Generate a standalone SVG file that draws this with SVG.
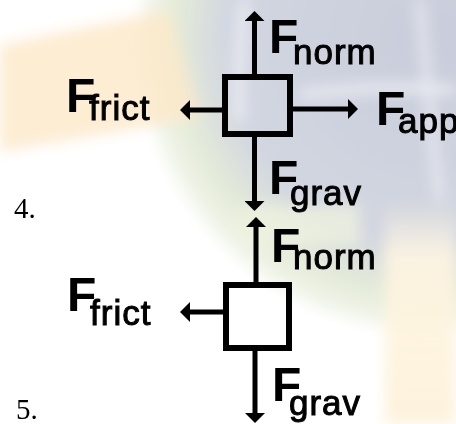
<svg xmlns="http://www.w3.org/2000/svg" width="456" height="424" viewBox="0 0 456 424">
<defs>
<style>
.F{font-family:"Liberation Sans",Arial,sans-serif;font-weight:bold;font-size:48px;fill:#000}
.s{font-family:"Liberation Sans",Arial,sans-serif;font-size:35px;fill:#000;stroke:#000;stroke-width:1;letter-spacing:1px}
.n{font-family:"Liberation Serif","Times New Roman",serif;font-size:29px;fill:#000}
.box{fill:none;stroke:#000;stroke-width:6}
.ln{stroke:#000;stroke-width:5;fill:none}
</style>
<marker id="ah" viewBox="0 -10 11 20" refX="0" refY="0" markerWidth="11" markerHeight="20" markerUnits="userSpaceOnUse" orient="auto">
<path d="M0,-10 L10,0 L0,10 Z" fill="#000"/>
</marker>
<radialGradient id="globe" cx="430" cy="40" r="290" gradientUnits="userSpaceOnUse">
<stop offset="0" stop-color="#c9cddb"/>
<stop offset="0.7" stop-color="#d2d6e1"/>
<stop offset="0.88" stop-color="#e4ebd8"/>
<stop offset="1" stop-color="#f4f7ee"/>
</radialGradient>
<linearGradient id="yel" x1="0" y1="0" x2="0" y2="1">
<stop offset="0" stop-color="#fef5e2" stop-opacity="0"/>
<stop offset="0.25" stop-color="#fef5e2" stop-opacity="0.9"/>
<stop offset="1" stop-color="#fdf1da" stop-opacity="0.95"/>
</linearGradient>
<filter id="bl" x="-20%" y="-20%" width="140%" height="140%"><feGaussianBlur stdDeviation="7"/></filter>
</defs>
<rect width="456" height="424" fill="#ffffff"/>
<g id="background" filter="url(#bl)">
<circle cx="430" cy="40" r="290" fill="url(#globe)"/>
<polygon points="0,45 170,10 200,118 0,152" fill="#fde8c8" opacity="0.8"/>
<path d="M245,0 C240,40 238,80 240,120" stroke="#eef0f5" stroke-width="8" fill="none"/>
<path d="M300,95 C350,88 400,86 456,90" stroke="#eef0f5" stroke-width="8" fill="none"/>
<path d="M420,0 C425,60 430,120 440,200" stroke="#e8eaf0" stroke-width="8" fill="none"/>
<rect x="385" y="200" width="71" height="224" fill="url(#yel)"/>
<rect x="240" y="205" width="120" height="40" fill="#f0f4e0" opacity="0.7"/>
</g>
<g id="connectors">
<line class="ln" x1="254.5" y1="74" x2="254.5" y2="21" marker-end="url(#ah)"/>
<line class="ln" x1="254.5" y1="137" x2="254.5" y2="201" marker-end="url(#ah)"/>
<line class="ln" x1="222" y1="110" x2="190" y2="110" marker-end="url(#ah)"/>
<line class="ln" x1="293" y1="109" x2="348" y2="109" marker-end="url(#ah)"/>
<line class="ln" x1="256" y1="282" x2="256" y2="227" marker-end="url(#ah)"/>
<line class="ln" x1="255" y1="351" x2="255" y2="413" marker-end="url(#ah)"/>
<line class="ln" x1="223" y1="312" x2="190" y2="312" marker-end="url(#ah)"/>
</g>
<g id="box4"><rect class="box" x="225" y="77" width="65" height="57"/></g>
<g id="box5"><rect class="box" x="226" y="285" width="63" height="63"/></g>
<g id="label4-norm"><text class="F" x="269" y="53">F</text><text class="s" x="293" y="64">norm</text></g>
<g id="label4-frict"><text class="F" x="66" y="112">F</text><text class="s" x="89" y="120">frict</text></g>
<g id="label4-app"><text class="F" x="376" y="125">F</text><text class="s" x="398" y="133">app</text></g>
<g id="label4-grav"><text class="F" x="269" y="194">F</text><text class="s" x="290" y="205">grav</text></g>
<g id="label5-norm"><text class="F" x="271" y="262">F</text><text class="s" x="293" y="269">norm</text></g>
<g id="label5-frict"><text class="F" x="67" y="311">F</text><text class="s" x="90" y="325">frict</text></g>
<g id="label5-grav"><text class="F" x="272" y="401">F</text><text class="s" x="289" y="415">grav</text></g>
<g id="num4"><text class="n" x="14" y="218">4.</text></g>
<g id="num5"><text class="n" x="16" y="419">5.</text></g>
</svg>
